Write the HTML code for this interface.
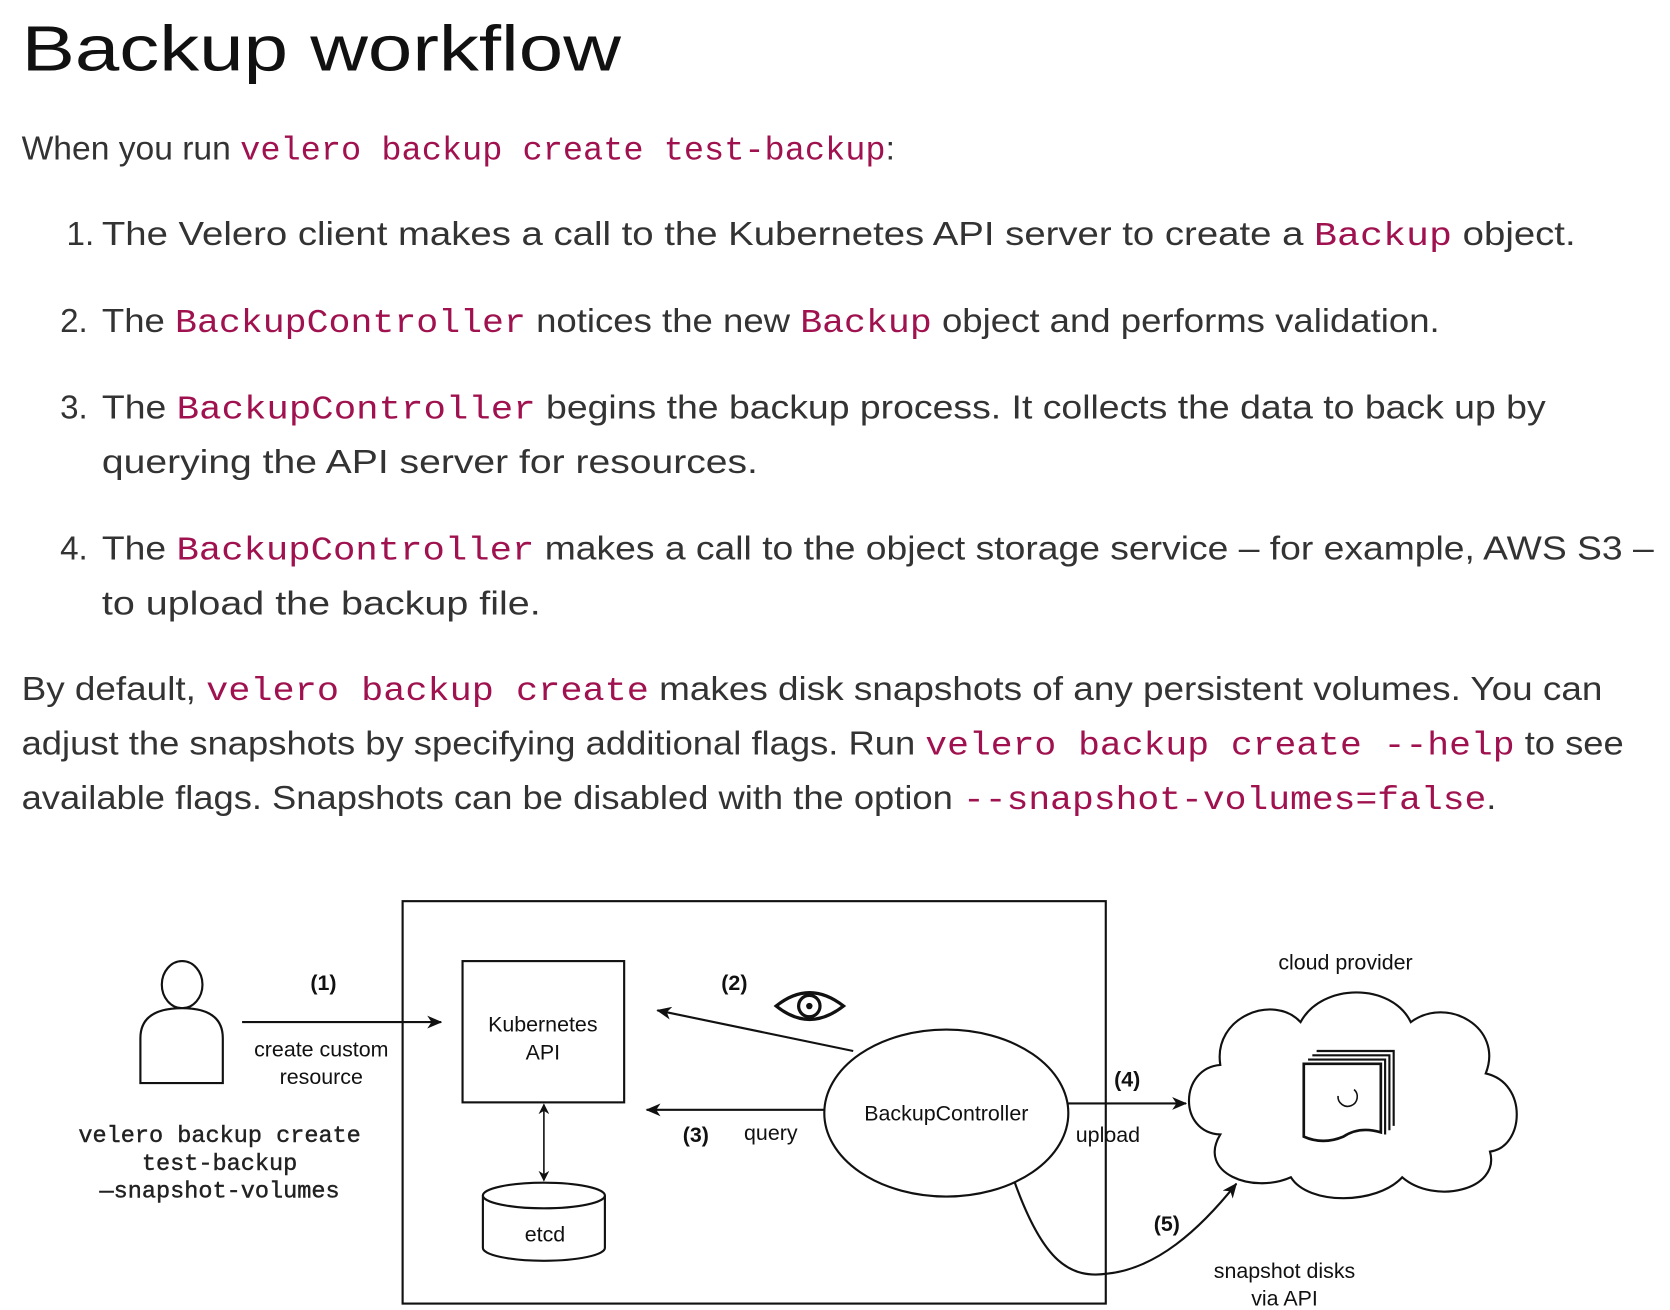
<!DOCTYPE html>
<html><head><meta charset="utf-8"><style>
html,body{margin:0;padding:0;background:#fff;width:1670px;height:1310px;overflow:hidden}
svg{display:block}
.t{font-family:"Liberation Sans",sans-serif;fill:#333;font-size:31px}
.c{font-family:"Liberation Mono",monospace;fill:#a0124f}
.d{font-family:"Liberation Sans",sans-serif;font-size:20px;fill:#111;text-anchor:middle}
.b{font-weight:bold}
.m{font-family:"Liberation Mono",monospace;font-size:22px;fill:#222;stroke:#222;stroke-width:0.4;text-anchor:middle}
</style></head><body>
<svg width="1670" height="1310" viewBox="0 0 1560 1224" xmlns="http://www.w3.org/2000/svg">
<defs>
<marker id="ah" markerWidth="10" markerHeight="10" refX="9" refY="5" orient="auto-start-reverse" markerUnits="userSpaceOnUse"><path d="M0,0 L10,5 L0,10 L3,5 Z" fill="#111"/></marker>
<marker id="as" markerWidth="14" markerHeight="12" refX="13" refY="6" orient="auto" markerUnits="userSpaceOnUse"><path d="M0,0 L14,6 L0,12 L4,6 Z" fill="#111"/></marker>
</defs>
<text x="20" y="66" font-family="Liberation Sans,sans-serif" font-size="60" fill="#111" textLength="560" lengthAdjust="spacingAndGlyphs">Backup workflow</text>
<text class="t" x="20" y="149" textLength="816" lengthAdjust="spacingAndGlyphs">When you run <tspan class="c">velero backup create test-backup</tspan>:</text>
<text class="t" x="62" y="229">1.</text>
<text class="t" x="95" y="229" textLength="1377" lengthAdjust="spacingAndGlyphs">The Velero client makes a call to the Kubernetes API server to create a <tspan class="c">Backup</tspan> object.</text>
<text class="t" x="56" y="310">2.</text>
<text class="t" x="95" y="310" textLength="1250" lengthAdjust="spacingAndGlyphs">The <tspan class="c">BackupController</tspan> notices the new <tspan class="c">Backup</tspan> object and performs validation.</text>
<text class="t" x="56" y="391">3.</text>
<text class="t" x="95" y="391" textLength="1349" lengthAdjust="spacingAndGlyphs">The <tspan class="c">BackupController</tspan> begins the backup process. It collects the data to back up by</text>
<text class="t" x="95" y="442" textLength="613" lengthAdjust="spacingAndGlyphs">querying the API server for resources.</text>
<text class="t" x="56" y="523">4.</text>
<text class="t" x="95" y="523" textLength="1450" lengthAdjust="spacingAndGlyphs">The <tspan class="c">BackupController</tspan> makes a call to the object storage service – for example, AWS S3 –</text>
<text class="t" x="95" y="574" textLength="410" lengthAdjust="spacingAndGlyphs">to upload the backup file.</text>
<text class="t" x="20" y="654" textLength="1477" lengthAdjust="spacingAndGlyphs">By default, <tspan class="c">velero backup create</tspan> makes disk snapshots of any persistent volumes. You can</text>
<text class="t" x="20" y="705" textLength="1497" lengthAdjust="spacingAndGlyphs">adjust the snapshots by specifying additional flags. Run <tspan class="c">velero backup create --help</tspan> to see</text>
<text class="t" x="20" y="756" textLength="1378" lengthAdjust="spacingAndGlyphs">available flags. Snapshots can be disabled with the option <tspan class="c">--snapshot-volumes=false</tspan>.</text>

<g stroke="#111" stroke-width="2" fill="none">
<rect x="376" y="842" width="657" height="376"/>
<ellipse cx="170" cy="920" rx="19" ry="22" fill="#fff"/>
<path d="M131,1012 L131,970 Q131,942 170,942 Q208,942 208,970 L208,1012 Z" fill="#fff"/>
<line x1="226" y1="955" x2="412" y2="955" marker-end="url(#as)"/>
<rect x="432" y="898" width="151" height="132" fill="#fff"/>
<line x1="508" y1="1032" x2="508" y2="1103" stroke-width="1.5" marker-start="url(#ah)" marker-end="url(#ah)"/>
<path d="M451,1117 L451,1166 A57,12 0 0 0 565,1166 L565,1117" fill="#fff"/>
<ellipse cx="508" cy="1117" rx="57" ry="12" fill="#fff"/>
<ellipse cx="884" cy="1040" rx="114" ry="78" fill="#fff"/>
<line x1="797" y1="982" x2="614" y2="944" marker-end="url(#as)"/>
<line x1="770" y1="1037" x2="604" y2="1037" marker-end="url(#as)"/>
<line x1="998" y1="1031" x2="1108" y2="1031" marker-end="url(#as)"/>
<path d="M948,1105 C975,1180 1000,1195 1035,1190 C1080,1185 1120,1150 1155,1106" marker-end="url(#as)"/>
<path d="M725,940 Q756,915 788,940 Q756,965 725,940 Z" stroke-width="3"/>
<circle cx="756" cy="940" r="10" stroke-width="3"/>
<circle cx="756" cy="940" r="2" fill="#111"/>
<path d="M1140,1060 C1100,1058 1102,998 1140,995 C1133,950 1190,928 1215,955 C1235,918 1300,918 1318,955 C1352,930 1405,960 1388,1003 C1428,1012 1424,1072 1392,1076 C1402,1112 1340,1126 1310,1100 C1286,1126 1222,1126 1206,1100 C1170,1116 1118,1096 1140,1060 Z" fill="#fff"/>
<path d="M1230,982 H1302 V1052" stroke-width="2"/>
<path d="M1226,986 H1298 V1056" stroke-width="2"/>
<path d="M1222,990 H1294 V1060" stroke-width="2"/>
<path d="M1218,994 H1290 V1058 Q1270,1052 1255,1062 Q1236,1070 1218,1062 Z" fill="#fff" stroke-width="2.5"/>
<path d="M1265,1018 A9,9 0 1 1 1250,1024" stroke-width="1.5"/>
</g>
<text class="d b" x="302" y="925">(1)</text>
<text class="d" x="300" y="987">create custom</text>
<text class="d" x="300" y="1013">resource</text>
<text class="m" x="205" y="1067">velero backup create</text>
<text class="m" x="205" y="1093">test-backup</text>
<text class="m" x="205" y="1119">—snapshot-volumes</text>
<text class="d" x="507" y="964">Kubernetes</text>
<text class="d" x="507" y="990">API</text>
<text class="d" x="509" y="1160">etcd</text>
<text class="d" x="884" y="1047">BackupController</text>
<text class="d b" x="686" y="925">(2)</text>
<text class="d b" x="650" y="1067">(3)</text>
<text class="d" x="720" y="1065">query</text>
<text class="d b" x="1053" y="1015">(4)</text>
<text class="d" x="1035" y="1067">upload</text>
<text class="d b" x="1090" y="1150">(5)</text>
<text class="d" x="1200" y="1194">snapshot disks</text>
<text class="d" x="1200" y="1220">via API</text>
<text class="d" x="1257" y="906">cloud provider</text>
</svg>
</body></html>
